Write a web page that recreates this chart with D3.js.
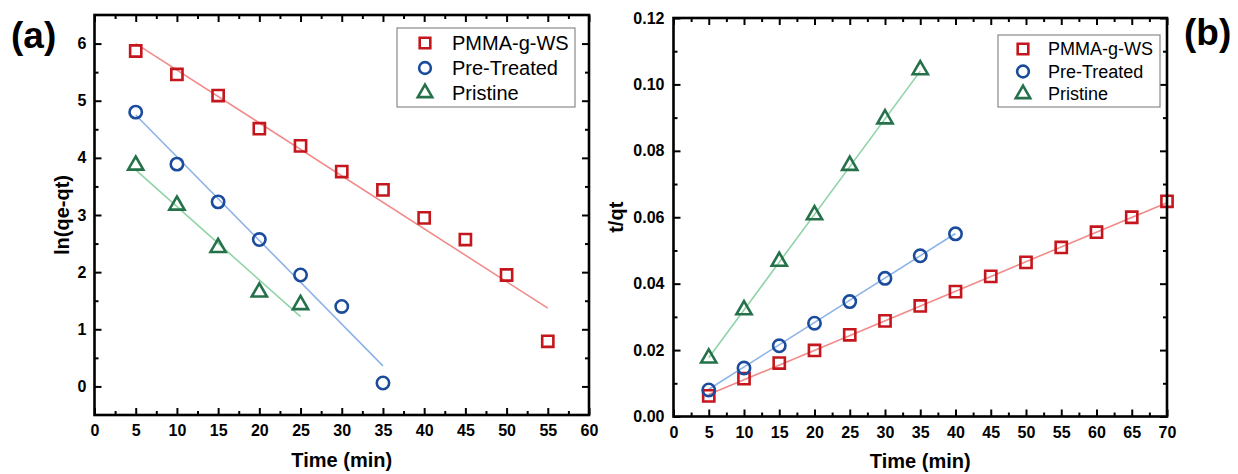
<!DOCTYPE html>
<html><head><meta charset="utf-8">
<script src="https://cdn.jsdelivr.net/npm/d3@7"></script>
<style>body{margin:0;background:#fff} svg{display:block}</style>
</head><body><svg id="c" width="1238" height="474"></svg>
<script>
// ---------- data ----------
const seriesNames = ["PMMA-g-WS", "Pre-Treated", "Pristine"];

// panel (a): ln(qe-qt) vs time
const timeA_pmma = [5, 10, 15, 20, 25, 30, 35, 40, 45, 50, 55];
const lnA_pmma   = [5.87, 5.46, 5.09, 4.51, 4.21, 3.76, 3.44, 2.95, 2.57, 1.95, 0.79];
const timeA_pre  = [5, 10, 15, 20, 25, 30, 35];
const lnA_pre    = [4.80, 3.89, 3.23, 2.57, 1.95, 1.40, 0.06];
const timeA_pri  = [5, 10, 15, 20, 25];
const lnA_pri    = [3.87, 3.17, 2.43, 1.65, 1.43];
const fitA_pmma  = [[5, 6.00], [55, 1.37]];
const fitA_pre   = [[5, 4.75], [35, 0.36]];
const fitA_pri   = [[5, 3.79], [25, 1.22]];

// panel (b): t/qt vs time
const timeB_pmma = [5, 10, 15, 20, 25, 30, 35, 40, 45, 50, 55, 60, 65, 70];
const tqB_pmma   = [0.0062, 0.0114, 0.0161, 0.0199, 0.0246, 0.0288, 0.0333, 0.0376, 0.0422, 0.0464, 0.0509, 0.0555, 0.0600, 0.0648];
const timeB_pre  = [5, 10, 15, 20, 25, 30, 35, 40];
const tqB_pre    = [0.0080, 0.0146, 0.0213, 0.0281, 0.0346, 0.0416, 0.0484, 0.0550];
const timeB_pri  = [5, 10, 15, 20, 25, 30, 35];
const tqB_pri    = [0.0176, 0.0321, 0.0467, 0.0607, 0.0756, 0.0896, 0.1044];
const fitB_pmma  = [[5, 0.0066], [70, 0.0644]];
const fitB_pre   = [[5, 0.0082], [40, 0.0551]];
const fitB_pri   = [[5, 0.0177], [35, 0.1040]];

// ticks
const xTicksA = [0, 5, 10, 15, 20, 25, 30, 35, 40, 45, 50, 55, 60];
const yTicksA = [0, 1, 2, 3, 4, 5, 6];
const xTicksB = [0, 5, 10, 15, 20, 25, 30, 35, 40, 45, 50, 55, 60, 65, 70];
const yTicksB = [0, 0.02, 0.04, 0.06, 0.08, 0.10, 0.12];
const xMinorA = [2.5, 7.5, 12.5, 17.5, 22.5, 27.5, 32.5, 37.5, 42.5, 47.5, 52.5, 57.5];
const yMinorA = [0.5, 1.5, 2.5, 3.5, 4.5, 5.5];
const xMinorB = [2.5, 7.5, 12.5, 17.5, 22.5, 27.5, 32.5, 37.5, 42.5, 47.5, 52.5, 57.5, 62.5, 67.5];
const yMinorB = [0.01, 0.03, 0.05, 0.07, 0.09, 0.11];

// ---------- style ----------
const markerColors = ["#c4161c", "#1b4b9b", "#24714a"];
const lineColors   = ["#f28a8a", "#8db3e8", "#8fd3a6"];
const shapes = [d3.symbolSquare, d3.symbolCircle, d3.symbolTriangle];
const shapeSizes = [125, 120, 100];
const FONT = "'Liberation Sans', Arial, sans-serif";

const svg = d3.select("#c");

function panel(cfg) {
  const x = d3.scaleLinear().domain(cfg.xDomain).range([cfg.x0, cfg.x1]);
  const y = d3.scaleLinear().domain(cfg.yDomain).range([cfg.y1, cfg.y0]);
  const g = svg.append("g");

  const styleAxis = (sel) => {
    sel.select(".domain").remove();
    sel.selectAll("line").attr("stroke", "#000").attr("stroke-width", 2);
    sel.selectAll("text").attr("font-family", FONT).attr("font-weight", "bold")
      .attr("font-size", 16).attr("fill", "#000");
  };

  // major axes
  g.append("g").attr("transform", `translate(0,${cfg.y1})`)
    .call(d3.axisBottom(x).tickValues(cfg.xTicks).tickSize(-7).tickPadding(10).tickFormat(d3.format("d")))
    .call(styleAxis);
  g.append("g").attr("transform", `translate(${cfg.x0},0)`)
    .call(d3.axisLeft(y).tickValues(cfg.yTicks).tickSize(-7).tickPadding(cfg.yPad).tickFormat(cfg.yFormat))
    .call(styleAxis);
  g.append("g").attr("transform", `translate(0,${cfg.y0})`)
    .call(d3.axisTop(x).tickValues(cfg.xTicks).tickSize(-7).tickFormat(""))
    .call(styleAxis);
  g.append("g").attr("transform", `translate(${cfg.x1},0)`)
    .call(d3.axisRight(y).tickValues(cfg.yTicks).tickSize(-7).tickFormat(""))
    .call(styleAxis);
  // minor ticks
  g.append("g").attr("transform", `translate(0,${cfg.y1})`)
    .call(d3.axisBottom(x).tickValues(cfg.xMinor).tickSize(-4).tickFormat("")).call(styleAxis);
  g.append("g").attr("transform", `translate(0,${cfg.y0})`)
    .call(d3.axisTop(x).tickValues(cfg.xMinor).tickSize(-4).tickFormat("")).call(styleAxis);
  g.append("g").attr("transform", `translate(${cfg.x0},0)`)
    .call(d3.axisLeft(y).tickValues(cfg.yMinor).tickSize(-4).tickFormat("")).call(styleAxis);
  g.append("g").attr("transform", `translate(${cfg.x1},0)`)
    .call(d3.axisRight(y).tickValues(cfg.yMinor).tickSize(-4).tickFormat("")).call(styleAxis);

  // fit lines
  const line = d3.line().x(d => x(d[0])).y(d => y(d[1]));
  cfg.fits.forEach((f, i) => {
    g.append("path").attr("d", line(f)).attr("fill", "none")
      .attr("stroke", lineColors[i]).attr("stroke-width", 1.6);
  });

  // markers
  cfg.series.forEach((s, i) => {
    const sym = d3.symbol().type(shapes[i]).size(shapeSizes[i]);
    g.selectAll(null).data(s.t.map((t, k) => [t, s.v[k]])).enter()
      .append("path").attr("d", sym)
      .attr("transform", d => `translate(${x(d[0])},${y(d[1])})`)
      .attr("fill", "none").attr("stroke", markerColors[i]).attr("stroke-width", 2.6);
  });

  // frame
  g.append("rect").attr("x", cfg.x0).attr("y", cfg.y0)
    .attr("width", cfg.x1 - cfg.x0).attr("height", cfg.y1 - cfg.y0)
    .attr("fill", "none").attr("stroke", "#000").attr("stroke-width", 2.6);

  // legend
  const L = cfg.legend;
  g.append("rect").attr("x", L.x).attr("y", L.y).attr("width", L.w).attr("height", L.h)
    .attr("fill", "#fff").attr("stroke", "#8a8a8a").attr("stroke-width", 1.2);
  seriesNames.forEach((name, i) => {
    const cy = L.y + L.first + i * L.step;
    g.append("path").attr("d", d3.symbol().type(shapes[i]).size(shapeSizes[i] * 0.9)())
      .attr("transform", `translate(${L.mx},${cy})`)
      .attr("fill", "none").attr("stroke", markerColors[i]).attr("stroke-width", 2.6);
    g.append("text").attr("x", L.tx).attr("y", cy).attr("dy", "0.35em")
      .attr("font-family", FONT).attr("font-size", L.fs).attr("fill", "#000").text(name);
  });

  // axis titles
  g.append("text").attr("x", (cfg.x0 + cfg.x1) / 2).attr("y", cfg.xTitleY)
    .attr("text-anchor", "middle").attr("font-family", FONT).attr("font-weight", "bold")
    .attr("font-size", 20).text("Time (min)");
  g.append("text").attr("transform", `translate(${cfg.yTitleX},${(cfg.y0 + cfg.y1) / 2}) rotate(-90)`)
    .attr("text-anchor", "middle").attr("dy", "0.35em").attr("font-family", FONT).attr("font-weight", "bold")
    .attr("font-size", 20).text(cfg.yTitle);
  // panel letter
  svg.append("text").attr("x", cfg.tag.x).attr("y", cfg.tag.y).attr("font-family", FONT)
    .attr("font-weight", "bold").attr("font-size", 37).text(cfg.tag.t);
}

panel({
  x0: 94.5, x1: 589, y0: 15, y1: 415,
  xDomain: [0, 60], yDomain: [-0.5, 6.5],
  xTicks: xTicksA, yTicks: yTicksA, xMinor: xMinorA, yMinor: yMinorA,
  yFormat: d3.format("d"), yPad: 8,
  fits: [fitA_pmma, fitA_pre, fitA_pri],
  series: [{t: timeA_pmma, v: lnA_pmma}, {t: timeA_pre, v: lnA_pre}, {t: timeA_pri, v: lnA_pri}],
  legend: {x: 397, y: 28, w: 178, h: 79, first: 15, step: 25, mx: 425, tx: 452, fs: 20},
  xTitleY: 467, yTitleX: 62, yTitle: "ln(qe-qt)",
  tag: {x: 11, y: 48, t: "(a)"}
});

panel({
  x0: 673.5, x1: 1167, y0: 18, y1: 416.5,
  xDomain: [0, 70], yDomain: [0, 0.12],
  xTicks: xTicksB, yTicks: yTicksB, xMinor: xMinorB, yMinor: yMinorB,
  yFormat: d3.format(".2f"), yPad: 9,
  fits: [fitB_pmma, fitB_pre, fitB_pri],
  series: [{t: timeB_pmma, v: tqB_pmma}, {t: timeB_pre, v: tqB_pre}, {t: timeB_pri, v: tqB_pri}],
  legend: {x: 998, y: 35, w: 162, h: 72, first: 14, step: 22.5, mx: 1023, tx: 1048, fs: 18},
  xTitleY: 468, yTitleX: 616, yTitle: "t/qt",
  tag: {x: 1184, y: 45, t: "(b)"}
});
</script>
</body></html>
